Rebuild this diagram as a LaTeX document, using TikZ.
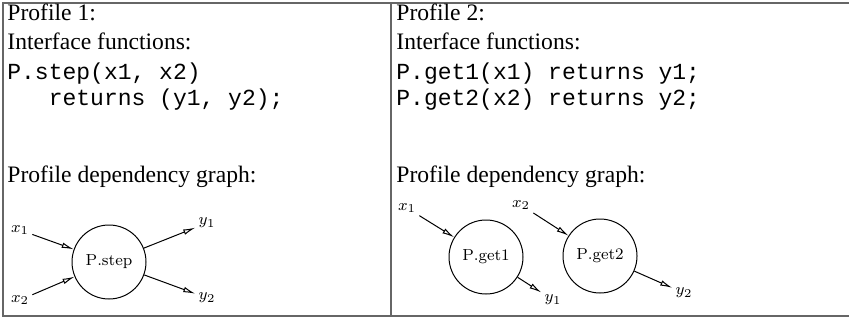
\documentclass[tikz,border=0pt]{standalone}
\usepackage[no-math]{fontspec}
\setmainfont{Liberation Serif}
\setmonofont{Liberation Mono}
\usetikzlibrary{arrows.meta}

\tikzset{
  txt/.style={anchor=base west,inner sep=0pt,font=\fontsize{11.8}{13}\selectfont},
  code/.style={anchor=base west,inner sep=0pt,font=\fontsize{11.5}{13}\selectfont\ttfamily},
  proc/.style={draw,circle,minimum size=37pt,inner sep=0pt,line width=0.5pt,font=\fontsize{8.2}{10}\selectfont},
  var/.style={inner sep=1.5pt,font=\fontsize{8.2}{10}\selectfont},
  dep/.style={line width=0.5pt,-{Latex[open,length=6pt,width=2.8pt]}},
  frame/.style={line width=0.8pt,black!60}
}

\begin{document}
\begin{tikzpicture}[x=0.5pt,y=-0.5pt]
  \useasboundingbox (0,0) rectangle (849,320);
  \draw[frame] (849,3) -- (3,3) -- (3,316) -- (849,316);
  \draw[frame] (391,3) -- (391,316);

  \node[txt] (h1) at (7,21) {Profile 1:};
  \node[txt] (f1) at (7,50) {Interface functions:};
  \node[code] (c11) at (7,80) {P.step(x1, x2)};
  \node[code] (c12) at (7,106) {\ \ \ returns (y1, y2);};
  \node[txt] (g1) at (7,183) {Profile dependency graph:};

  \node[var] (x1) at (20,230) {$x_1$};
  \node[var] (x2) at (20,300) {$x_2$};
  \node[proc] (step) at (109,262) {$\mathrm{P.step}$};
  \node[var] (y1) at (207,223) {$y_1$};
  \node[var] (y2) at (207,298) {$y_2$};
  \draw[dep] (x1) -- (step);
  \draw[dep] (x2) -- (step);
  \draw[dep] (step) -- (y1);
  \draw[dep] (step) -- (y2);

  \node[txt] (h2) at (396,21) {Profile 2:};
  \node[txt] (f2) at (396,50) {Interface functions:};
  \node[code] (c21) at (396,80) {P.get1(x1) returns y1;};
  \node[code] (c22) at (396,106) {P.get2(x2) returns y2;};
  \node[txt] (g2) at (396,183) {Profile dependency graph:};

  \node[var] (a1) at (407,208) {$x_1$};
  \node[proc] (get1) at (486,257) {$\mathrm{P.get1}$};
  \node[var] (b1) at (553,300) {$y_1$};
  \node[var] (a2) at (521,205) {$x_2$};
  \node[proc] (get2) at (600,256) {$\mathrm{P.get2}$};
  \node[var] (b2) at (684,293) {$y_2$};
  \draw[dep] (a1) -- (get1);
  \draw[dep] (get1) -- (b1);
  \draw[dep] (a2) -- (get2);
  \draw[dep] (get2) -- (b2);
\end{tikzpicture}
\end{document}
